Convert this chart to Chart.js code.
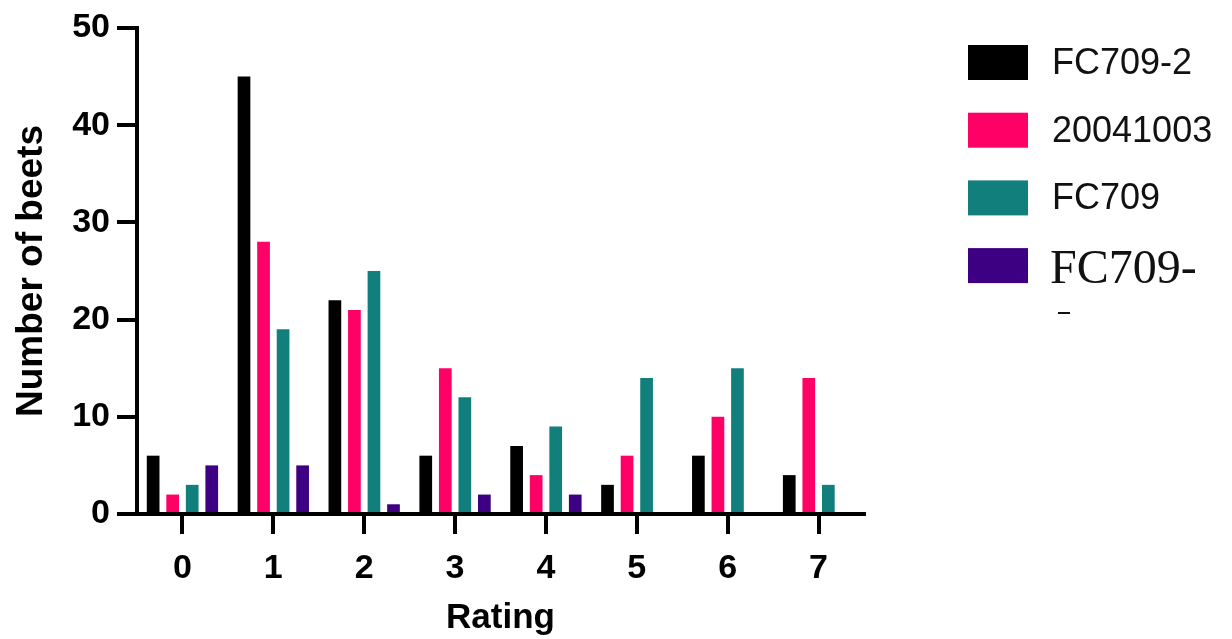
<!DOCTYPE html>
<html>
<head>
<meta charset="utf-8">
<script src="https://cdn.jsdelivr.net/npm/chart.js@4/dist/chart.umd.min.js"></script>
<style>
html,body{margin:0;padding:0;background:#fff}
#wrap{width:1232px;height:639px;position:relative}
</style>
</head>
<body>
<div id="wrap"><canvas id="c" width="1232" height="639"></canvas></div>
<script>
'use strict';
// ── data ──
const ratings=['0','1','2','3','4','5','6','7'];
const fc709_2=[6,45,22,6,7,3,6,4];
const s20041003=[2,28,21,15,4,6,10,14];
const fc709=[3,19,25,12,9,14,15,3];
const fc709_x=[5,5,1,2,2,0,0,0];
const seriesLabels=['FC709-2','20041003','FC709','FC709-'];
const seriesColors=['#000000','#ff0066','#117f7c','#3e0082'];
const yTicks=[0,10,20,30,40,50];

const SANS="'Liberation Sans', Arial, Helvetica, sans-serif";

// legend drawn at right, matching the figure
const sideLegend={
  id:'sideLegend',
  afterDraw(chart){
    const ctx=chart.ctx;
    ctx.save();
    chart.data.datasets.forEach((ds,i)=>{
      const top=45+i*67.7;
      ctx.fillStyle=ds.backgroundColor;
      ctx.fillRect(968,top,60,35);
      ctx.fillStyle='#111';
      if(i===3){
        ctx.font="48px 'Liberation Serif', 'Times New Roman', serif";
        ctx.textBaseline='alphabetic';
        ctx.fillText(ds.label,1050,283);
        ctx.fillRect(1058,312,12,2);
      } else {
        ctx.font='36px '+SANS;
        ctx.textBaseline='middle';
        ctx.fillText(ds.label,1052,top+19);
      }
    });
    ctx.restore();
  }
};

const mk=(data,i)=>({label:seriesLabels[i],data,backgroundColor:seriesColors[i],borderWidth:0,
  categoryPercentage:0.86,barPercentage:0.65});

new Chart(document.getElementById('c'),{
  type:'bar',
  data:{labels:ratings,datasets:[mk(fc709_2,0),mk(s20041003,1),mk(fc709,2),mk(fc709_x,3)]},
  plugins:[sideLegend],
  options:{
    responsive:false,animation:false,
    layout:{padding:{left:0,right:368,top:28,bottom:0}},
    plugins:{legend:{display:false},tooltip:{enabled:false}},
    scales:{
      x:{
        grid:{display:true,drawOnChartArea:false,offset:false,tickLength:20,lineWidth:4,color:'#000'},
        border:{display:true,width:4,color:'#000'},
        ticks:{color:'#000',padding:14,font:{family:SANS,size:34,weight:'bold'}},
        title:{display:true,text:'Rating',color:'#000',padding:{top:0,bottom:0},font:{family:SANS,size:35,weight:'bold'}},
        afterFit(s){s.height=125}
      },
      y:{
        min:0,max:50,
        afterBuildTicks(s){s.ticks=yTicks.map(v=>({value:v}))},
        grid:{display:true,drawOnChartArea:false,tickLength:20,lineWidth:4,color:'#000'},
        border:{display:true,width:4,color:'#000'},
        ticks:{color:'#000',padding:7,font:{family:SANS,size:34,weight:'bold'}},
        title:{display:true,text:'Number of beets',color:'#000',padding:{top:10,bottom:0},font:{family:SANS,size:37,weight:'bold'}},
        afterFit(s){s.width=137}
      }
    }
  }
});
</script>
</body>
</html>
